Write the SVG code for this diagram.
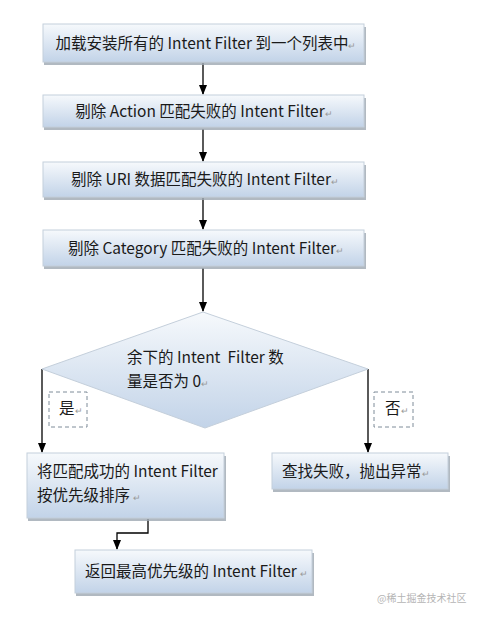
<svg xmlns="http://www.w3.org/2000/svg" width="482" height="618" viewBox="0 0 482 618">
<style>
.box{fill:url(#g);stroke:#c4cfdb;stroke-width:1}
.sh{fill:#9ea7b1;opacity:0.8}
.t{font-family:"Noto Sans CJK SC","Noto Sans",sans-serif;font-size:15.5px;fill:#1a1a1a}
.r{font-size:9px;fill:#999}
.c{text-anchor:middle}
.ln{stroke:#000;stroke-width:1.3;fill:none}
.dash{fill:#fff;stroke:#7f8c99;stroke-width:1;stroke-dasharray:4 3}
</style>
<defs>
<linearGradient id="g" x1="0" y1="0" x2="0" y2="1">
<stop offset="0" stop-color="#f6f9fc"/>
<stop offset="1" stop-color="#c2d3e8"/>
</linearGradient>
<marker id="a" markerWidth="10" markerHeight="10" refX="9" refY="5" orient="auto" markerUnits="userSpaceOnUse">
<path d="M0,1 L10,5 L0,9 Z" fill="#000"/>
</marker>
</defs>
<rect width="482" height="618" fill="#fff"/>
<g id="connectors">
<line class="ln" x1="203" y1="63" x2="203" y2="94" marker-end="url(#a)"/>
<line class="ln" x1="203" y1="129" x2="203" y2="161" marker-end="url(#a)"/>
<line class="ln" x1="203" y1="198" x2="203" y2="229" marker-end="url(#a)"/>
<line class="ln" x1="203" y1="268" x2="203" y2="311" marker-end="url(#a)"/>
<line class="ln" x1="42" y1="369" x2="42" y2="452" marker-end="url(#a)"/>
<line class="ln" x1="368" y1="369" x2="368" y2="452" marker-end="url(#a)"/>
<polyline class="ln" points="148,519 148,533 117,533 117,549" marker-end="url(#a)"/>
</g>
<g id="n1"><rect class="sh" x="44" y="27" width="322" height="38"/><rect class="box" x="43" y="24" width="321" height="38"/>
<text class="t c" x="206" y="49">加载安装所有的 Intent Filter 到一个列表中<tspan class="r">↵</tspan></text></g>
<g id="n2"><rect class="sh" x="44" y="98" width="322" height="32"/><rect class="box" x="43" y="95" width="321" height="32"/>
<text class="t c" x="204" y="117">剔除 Action 匹配失败的 Intent Filter<tspan class="r">↵</tspan></text></g>
<g id="n3"><rect class="sh" x="44" y="165" width="322" height="35"/><rect class="box" x="43" y="162" width="321" height="35"/>
<text class="t c" x="205" y="185">剔除 URI 数据匹配失败的 Intent Filter<tspan class="r">↵</tspan></text></g>
<g id="n4"><rect class="sh" x="44" y="233" width="322" height="36"/><rect class="box" x="43" y="230" width="321" height="36"/>
<text class="t c" x="206" y="254">剔除 Category 匹配失败的 Intent Filter<tspan class="r">↵</tspan></text></g>
<g id="n5"><polygon points="203,312 368,369 205,428 42,369" fill="url(#g)" stroke="#c4cfdb"/>
<text class="t" x="127" y="363" xml:space="preserve">余下的 Intent  Filter 数</text>
<text class="t" x="127" y="387">量是否为 0<tspan class="r">↵</tspan></text></g>
<g id="yes"><rect class="dash" x="49" y="392" width="38" height="35"/><text class="t" x="59" y="414">是<tspan class="r">↵</tspan></text></g>
<g id="no"><rect class="dash" x="374" y="392" width="39" height="35"/><text class="t" x="385" y="414">否<tspan class="r">↵</tspan></text></g>
<g id="n6"><rect class="sh" x="28" y="456" width="198" height="65"/><rect class="box" x="27" y="453" width="197" height="65"/>
<text class="t" x="37" y="477">将匹配成功的 Intent Filter</text>
<text class="t" x="37" y="501">按优先级排序 <tspan class="r">↵</tspan></text></g>
<g id="n7"><rect class="sh" x="273" y="456" width="177" height="36"/><rect class="box" x="272" y="453" width="176" height="36"/>
<text class="t" x="282" y="477">查找失败，抛出异常<tspan class="r">↵</tspan></text></g>
<g id="n8"><rect class="sh" x="76" y="553" width="238" height="43"/><rect class="box" x="75" y="550" width="237" height="43"/>
<text class="t" x="85" y="577">返回最高优先级的 Intent Filter <tspan class="r">↵</tspan></text></g>
<text x="377" y="602" style="font-family:'Noto Sans CJK SC',sans-serif;font-size:10px;fill:#b5b5b5">@稀土掘金技术社区</text>
</svg>
